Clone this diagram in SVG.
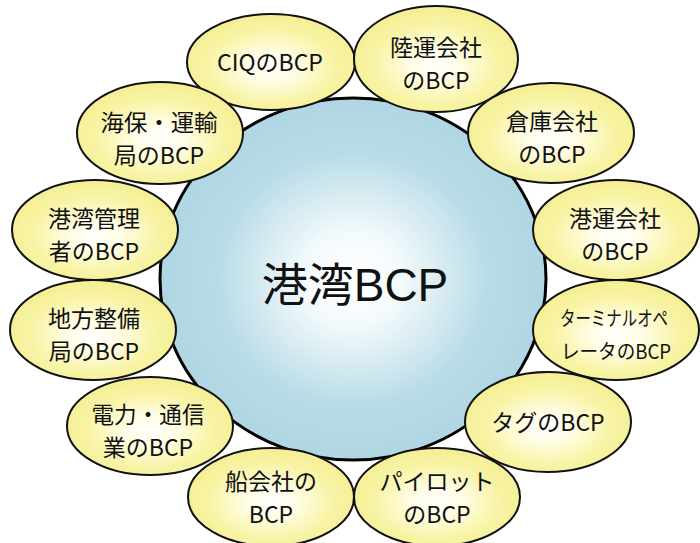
<svg xmlns="http://www.w3.org/2000/svg" width="700" height="543" viewBox="0 0 700 543">
<defs>
<radialGradient id="gBlue" cx="0.5" cy="0.5" r="0.5">
<stop offset="0" stop-color="#ffffff"/>
<stop offset="0.25" stop-color="#f4fafc"/>
<stop offset="0.7" stop-color="#b9dce7"/>
<stop offset="1" stop-color="#b0d6e3"/>
</radialGradient>
<radialGradient id="gYellow" cx="0.5" cy="0.55" r="0.5">
<stop offset="0" stop-color="#ffffff"/>
<stop offset="0.3" stop-color="#fffde6"/>
<stop offset="0.75" stop-color="#f8f4a6"/>
<stop offset="1" stop-color="#f5f098"/>
</radialGradient>
</defs>
<style>
.main{fill:url(#gBlue);stroke:#000;stroke-width:3}
.sat{fill:url(#gYellow);stroke:#111;stroke-width:2}
.t{font-family:"Noto Sans CJK JP","Liberation Sans",sans-serif;font-size:23px;fill:#111;text-anchor:middle}
.s{font-size:20px}
.big{font-family:"Liberation Sans","Noto Sans CJK JP",sans-serif;font-size:46px;fill:#111;text-anchor:middle}
</style>
<rect width="700" height="543" fill="#ffffff"/>
<g id="center">
<ellipse class="main" cx="353" cy="279" rx="193" ry="181"/>
<text class="big" x="355" y="301">港湾BCP</text>
</g>
<g id="n-ciq">
<ellipse class="sat" cx="271" cy="62" rx="84" ry="48"/>
<text class="t" x="270" y="71">CIQのBCP</text>
</g>
<g id="n-rikuun">
<ellipse class="sat" cx="436" cy="59" rx="82" ry="53"/>
<text class="t" x="436" y="56">陸運会社</text>
<text class="t" x="436" y="89">のBCP</text>
</g>
<g id="n-kaiho">
<ellipse class="sat" cx="160" cy="133" rx="83" ry="51"/>
<text class="t" x="159" y="131" textLength="117" lengthAdjust="spacingAndGlyphs">海保・運輸</text>
<text class="t" x="159" y="164">局のBCP</text>
</g>
<g id="n-souko">
<ellipse class="sat" cx="551" cy="133" rx="83" ry="50"/>
<text class="t" x="552" y="130">倉庫会社</text>
<text class="t" x="552" y="163">のBCP</text>
</g>
<g id="n-kanri">
<ellipse class="sat" cx="95" cy="230" rx="83" ry="50"/>
<text class="t" x="94" y="227">港湾管理</text>
<text class="t" x="94" y="260">者のBCP</text>
</g>
<g id="n-kouun">
<ellipse class="sat" cx="616" cy="230" rx="83" ry="50"/>
<text class="t" x="615" y="227">港運会社</text>
<text class="t" x="615" y="260">のBCP</text>
</g>
<g id="n-seibi">
<ellipse class="sat" cx="93" cy="330" rx="83" ry="50"/>
<text class="t" x="94" y="327">地方整備</text>
<text class="t" x="94" y="360">局のBCP</text>
</g>
<g id="n-terminal">
<ellipse class="sat" cx="616" cy="330" rx="83" ry="50"/>
<text class="t s" x="614" y="326" textLength="108" lengthAdjust="spacingAndGlyphs">ターミナルオペ</text>
<text class="t s" x="616" y="359" textLength="110" lengthAdjust="spacingAndGlyphs">レータのBCP</text>
</g>
<g id="n-denryoku">
<ellipse class="sat" cx="150" cy="426" rx="83" ry="49"/>
<text class="t" x="148" y="423" textLength="113" lengthAdjust="spacingAndGlyphs">電力・通信</text>
<text class="t" x="148" y="456">業のBCP</text>
</g>
<g id="n-tug">
<ellipse class="sat" cx="548" cy="422" rx="83" ry="50"/>
<text class="t" x="548" y="431">タグのBCP</text>
</g>
<g id="n-senpaku">
<ellipse class="sat" cx="271" cy="497" rx="83" ry="49"/>
<text class="t" x="271" y="490">船会社の</text>
<text class="t" x="271" y="523">BCP</text>
</g>
<g id="n-pilot">
<ellipse class="sat" cx="437" cy="497" rx="83" ry="49"/>
<text class="t" x="437" y="490">パイロット</text>
<text class="t" x="437" y="523">のBCP</text>
</g>
<g id="connectors"/>
</svg>
